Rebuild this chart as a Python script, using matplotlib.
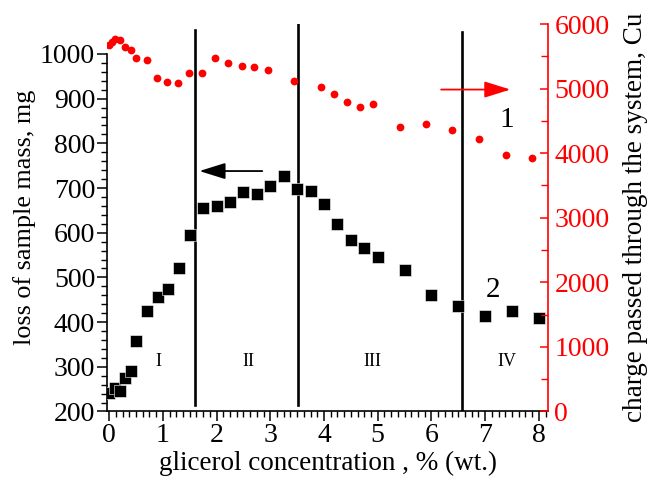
import matplotlib.pyplot as plt
from matplotlib.ticker import MultipleLocator

plt.rcParams['font.family'] = ['Liberation Serif', 'DejaVu Serif']

# sample mass loss (left axis), mg
conc_mass = [0.0, 0.1, 0.2, 0.3, 0.4, 0.5, 0.7, 0.9, 1.1, 1.3, 1.5, 1.75,
             2.0, 2.25, 2.5, 2.75, 3.0, 3.25, 3.5, 3.75, 4.0, 4.25, 4.5,
             4.75, 5.0, 5.5, 6.0, 6.5, 7.0, 7.5, 8.0]
mass_loss = [241, 252, 246, 274, 291, 358, 425, 456, 475, 520, 595, 656,
             660, 668, 690, 687, 705, 728, 698, 694, 664, 620, 584, 566,
             546, 517, 461, 437, 414, 425, 410]

# charge passed (right axis), Cu
conc_charge = [0.0, 0.05, 0.1, 0.2, 0.3, 0.4, 0.5, 0.7, 0.89, 1.08, 1.28,
               1.48, 1.72, 1.97, 2.22, 2.47, 2.7, 2.96, 3.44, 3.94, 4.18,
               4.43, 4.67, 4.92, 5.41, 5.9, 6.39, 6.88, 7.38, 7.87]
charge = [5673, 5724, 5762, 5751, 5647, 5596, 5477, 5441, 5167, 5096, 5090,
          5245, 5245, 5477, 5390, 5344, 5337, 5286, 5121, 5028, 4910, 4796,
          4718, 4760, 4409, 4455, 4362, 4218, 3966, 3920]

# region borders and their names
borders = [1.6, 3.52, 6.57]
border_tops = [1054, 1080, 1049]
border_bottoms = [214, 214, 203]
regions = ['I', 'II', 'III', 'IV']
region_x = [0.91, 2.6, 4.9, 7.4]

fig = plt.figure(figsize=(6.49, 4.84), dpi=100)
ax = fig.add_axes([0.1649, 0.1498, 0.6795, 0.8006])
ax2 = ax.twinx()

ax.set_xlim(-0.04, 8.17)
ax.set_ylim(200, 1067)
ax2.set_ylim(0, 6000)

for xb, yt, yb in zip(borders, border_tops, border_bottoms):
    ax.plot([xb, xb], [yb, yt], color='black', lw=1.9, zorder=2)

ax.plot(conc_mass, mass_loss, 's', color='black', ms=8.2, mec='white',
        mew=0.4, zorder=3)
ax2.plot(conc_charge, charge, 'o', color='red', ms=5.6, mec='none', zorder=3)

for name, xr in zip(regions, region_x):
    ax.text(xr, 312, name, ha='center', va='center', fontsize=13)

ax.text(7.4, 852, '1', ha='center', va='center', fontsize=21)
ax.text(7.15, 472, '2', ha='center', va='center', fontsize=21)

# arrows pointing to the axis of each series
ax.annotate('', xy=(1.68, 738), xytext=(2.85, 738),
            arrowprops=dict(arrowstyle='-|>,head_length=0.8,head_width=0.25',
                            color='black', lw=1.3, mutation_scale=20,
                            shrinkA=0, shrinkB=0))
ax2.annotate('', xy=(7.47, 4985), xytext=(6.18, 4985),
             arrowprops=dict(arrowstyle='-|>,head_length=0.8,head_width=0.25',
                             color='red', lw=1.3, mutation_scale=20,
                             shrinkA=0, shrinkB=0))

for s in ['top', 'right']:
    ax.spines[s].set_visible(False)
ax.spines['left'].set_bounds(200, 1000)
for s in ['top', 'left', 'bottom']:
    ax2.spines[s].set_visible(False)
ax2.spines['right'].set_color('red')
for sp in [ax.spines['left'], ax.spines['bottom'], ax2.spines['right']]:
    sp.set_linewidth(1.2)

ax.xaxis.set_major_locator(MultipleLocator(1))
ax.xaxis.set_minor_locator(MultipleLocator(0.125))
# left ticks stop at 1000, where the spine ends
ax.set_yticks(range(200, 1001, 100))
ax.set_yticks([v for v in range(200, 1001, 20) if v % 100], minor=True)
ax2.yaxis.set_major_locator(MultipleLocator(1000))
ax2.yaxis.set_minor_locator(MultipleLocator(500))

ax.tick_params(which='major', direction='out', length=7, width=1.1,
               labelsize=20, pad=1.5)
ax.tick_params(which='minor', direction='out', length=4, width=1.0)
ax2.tick_params(which='major', direction='in', length=6, width=1.1,
                color='red', labelcolor='red', labelsize=20, pad=4.5)
ax2.tick_params(which='minor', direction='in', length=5, width=1.0,
                color='red')

ax.set_xlabel('glicerol concentration , % (wt.)', fontsize=19.5, labelpad=2)
ax.set_ylabel('loss of sample mass, mg', fontsize=18.8, labelpad=3)
ax2.set_ylabel('charge passed through the system, Cu', fontsize=19.5,
               labelpad=10)

fig.savefig('out.png', dpi=100)
